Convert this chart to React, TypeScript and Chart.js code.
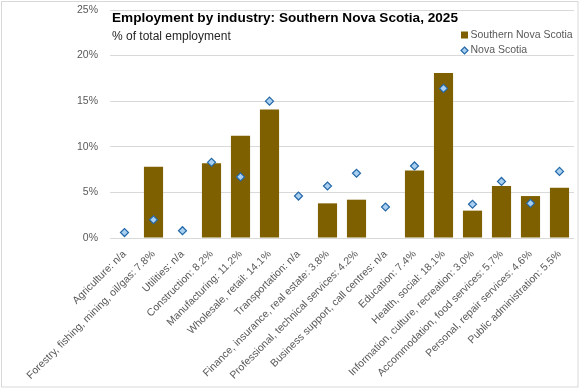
import React, { useEffect, useRef } from 'react';
import { Chart, registerables } from 'chart.js';

Chart.register(...registerables);

const categories = [
  'Agriculture: n/a',
  'Forestry, fishing, mining, oil/gas: 7.8%',
  'Utilities: n/a',
  'Construction: 8.2%',
  'Manufacturing: 11.2%',
  'Wholesale, retail: 14.1%',
  'Transportation: n/a',
  'Finance, insurance, real estate: 3.8%',
  'Professional, technical services: 4.2%',
  'Business support, call centres: n/a',
  'Education: 7.4%',
  'Health, social: 18.1%',
  'Information, culture, recreation: 3.0%',
  'Accommodation, food services: 5.7%',
  'Personal, repair services: 4.6%',
  'Public administration: 5.5%',
];

const southernNovaScotia: (number | null)[] = [null, 7.8, null, 8.2, 11.2, 14.1, null, 3.8, 4.2, null, 7.4, 18.1, 3.0, 5.7, 4.6, 5.5];
const novaScotia: number[] = [0.6, 2.0, 0.8, 8.3, 6.7, 15.0, 4.6, 5.7, 7.1, 3.4, 7.9, 16.4, 3.7, 6.2, 3.8, 7.3];
const yTicks = [0, 5, 10, 15, 20, 25];

const titleText = 'Employment by industry: Southern Nova Scotia, 2025';
const subtitleText = '% of total employment';
const seriesNames = ['Southern Nova Scotia', 'Nova Scotia'];

const BAR_COLOR = '#7F6000';
const PT_FILL = '#A9D0F0';
const PT_BORDER = '#2468A8';
const GRID = '#D9D9D9';
const TEXT = '#595959';
const SANS = '"Liberation Sans", Arial, sans-serif';

const overlay = {
  id: 'overlay',
  beforeDraw(chart: any) {
    const ctx = chart.ctx;
    ctx.save();
    ctx.fillStyle = '#ffffff';
    ctx.fillRect(0, 0, chart.width, chart.height);
    ctx.strokeStyle = GRID;
    ctx.lineWidth = 1;
    ctx.strokeRect(1.5, 1.5, chart.width - 3.5, chart.height - 3.5);
    ctx.restore();
  },
  afterDraw(chart: any) {
    const ctx = chart.ctx;
    ctx.save();
    ctx.textAlign = 'left';
    ctx.textBaseline = 'alphabetic';
    ctx.fillStyle = '#000000';
    ctx.font = 'bold 13.6px ' + SANS;
    ctx.fillText(titleText, 112, 22);
    ctx.fillStyle = '#262626';
    ctx.font = '12px ' + SANS;
    ctx.fillText(subtitleText, 112, 39.5);

    // legend
    ctx.font = '10.5px ' + SANS;
    ctx.textBaseline = 'middle';
    ctx.fillStyle = BAR_COLOR;
    ctx.fillRect(461, 31.5, 7, 7);
    ctx.fillStyle = TEXT;
    ctx.fillText(seriesNames[0], 470.5, 35.5);
    const cx = 464.5, cy = 50.5, r = 3.5;
    ctx.beginPath();
    ctx.moveTo(cx, cy - r);
    ctx.lineTo(cx + r, cy);
    ctx.lineTo(cx, cy + r);
    ctx.lineTo(cx - r, cy);
    ctx.closePath();
    ctx.fillStyle = PT_FILL;
    ctx.fill();
    ctx.strokeStyle = PT_BORDER;
    ctx.lineWidth = 1.2;
    ctx.stroke();
    ctx.fillStyle = TEXT;
    ctx.fillText(seriesNames[1], 470.5, 50.5);
    ctx.restore();
  },
};

export default function App() {
  const ref = useRef<HTMLCanvasElement | null>(null);
  useEffect(() => {
    if (!ref.current) return;
    const chart = new Chart(ref.current, {
      type: 'bar',
      data: {
        labels: categories,
        datasets: [
          {
            type: 'bar',
            label: seriesNames[0],
            data: southernNovaScotia,
            backgroundColor: BAR_COLOR,
            categoryPercentage: 1,
            barPercentage: 0.66,
            order: 2,
          },
          {
            type: 'line',
            label: seriesNames[1],
            data: novaScotia,
            showLine: false,
            pointStyle: 'rectRot',
            pointRadius: 4,
            pointBackgroundColor: PT_FILL,
            pointBorderColor: PT_BORDER,
            pointBorderWidth: 1.2,
            order: 1,
          } as any,
        ],
      },
      options: {
        responsive: false,
        animation: false,
        layout: { padding: { left: 0, right: 6, top: 10, bottom: 0 } },
        plugins: {
          legend: { display: false },
          title: { display: false },
          tooltip: { enabled: false },
        },
        scales: {
          x: {
            grid: { display: false },
            border: { display: false },
            ticks: {
              autoSkip: false,
              minRotation: 45,
              maxRotation: 45,
              padding: 2,
              color: TEXT,
              font: { family: SANS, size: 10.5 },
            },
            afterFit(scale: any) {
              scale.height = 151;
              scale.paddingTop = 0;
            },
          },
          y: {
            min: 0,
            max: 25,
            grid: { color: GRID, drawTicks: false },
            border: { display: false },
            afterBuildTicks(scale: any) {
              scale.ticks = yTicks.map((v) => ({ value: v }));
            },
            ticks: {
              padding: 12,
              color: TEXT,
              font: { family: SANS, size: 10.5 },
              callback: (v: any) => v + '%',
            },
            afterFit(scale: any) {
              scale.width = 110;
              scale.paddingTop = 0;
              scale.paddingBottom = 0;
            },
          },
        },
      },
      plugins: [overlay],
    });
    return () => chart.destroy();
  }, []);
  return (
    <div style={{ position: 'fixed', left: 0, top: 0, width: 580, height: 389 }}>
      <canvas ref={ref} width={580} height={389} />
    </div>
  );
}
